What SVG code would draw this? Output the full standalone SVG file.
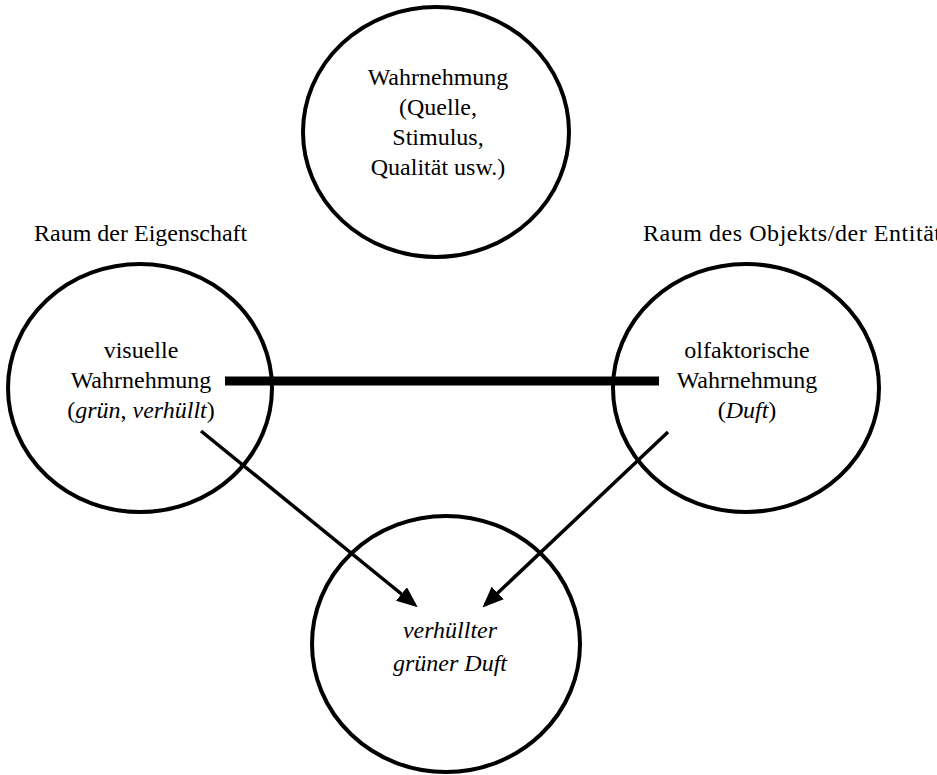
<svg xmlns="http://www.w3.org/2000/svg" width="937" height="775" viewBox="0 0 937 775">
<style>
.node{fill:none;stroke:#000;stroke-width:4}
text{font-family:"Liberation Serif","Times New Roman",serif;font-size:24px;fill:#000}
.c{text-anchor:middle}
.i{font-style:italic}
.arr{stroke:#000;stroke-width:3.5;fill:none}
</style>
<defs>
<marker id="ah" markerWidth="6" markerHeight="5" refX="5" refY="2.5" orient="auto" markerUnits="strokeWidth">
<path d="M0,0 L6,2.5 L0,5 Z" fill="#000"/>
</marker>
</defs>
<rect width="937" height="775" fill="#fff"/>
<g id="label-left"><text x="34" y="241">Raum der Eigenschaft</text></g>
<g id="label-right"><text x="643" y="241" textLength="298" lengthAdjust="spacing">Raum des Objekts/der Entität</text></g>
<g id="top">
<ellipse class="node" cx="436" cy="132" rx="133" ry="125"/>
<text class="c" x="438" y="85">Wahrnehmung</text>
<text class="c" x="438" y="115">(Quelle,</text>
<text class="c" x="438" y="145">Stimulus,</text>
<text class="c" x="438" y="175">Qualität usw.)</text>
</g>
<g id="left">
<ellipse class="node" cx="140" cy="388" rx="132" ry="124"/>
<text class="c" x="141" y="358">visuelle</text>
<text class="c" x="141" y="388">Wahrnehmung</text>
<text class="c" x="141" y="418">(<tspan class="i">grün</tspan>, <tspan class="i">verhüllt</tspan>)</text>
</g>
<g id="right">
<ellipse class="node" cx="746" cy="388" rx="133" ry="124"/>
<text class="c" x="747" y="358">olfaktorische</text>
<text class="c" x="747" y="388">Wahrnehmung</text>
<text class="c" x="747" y="418">(<tspan class="i">Duft</tspan>)</text>
</g>
<g id="bottom">
<ellipse class="node" cx="446" cy="644" rx="134" ry="128"/>
<text class="c i" x="450" y="638">verhüllter</text>
<text class="c i" x="450" y="671">grüner Duft</text>
</g>
<g id="connectors">
<line x1="225" y1="381" x2="659" y2="381" stroke="#000" stroke-width="9"/>
<line class="arr" x1="201" y1="431" x2="415" y2="605" marker-end="url(#ah)"/>
<line class="arr" x1="668" y1="432" x2="485" y2="605" marker-end="url(#ah)"/>
</g>
</svg>
